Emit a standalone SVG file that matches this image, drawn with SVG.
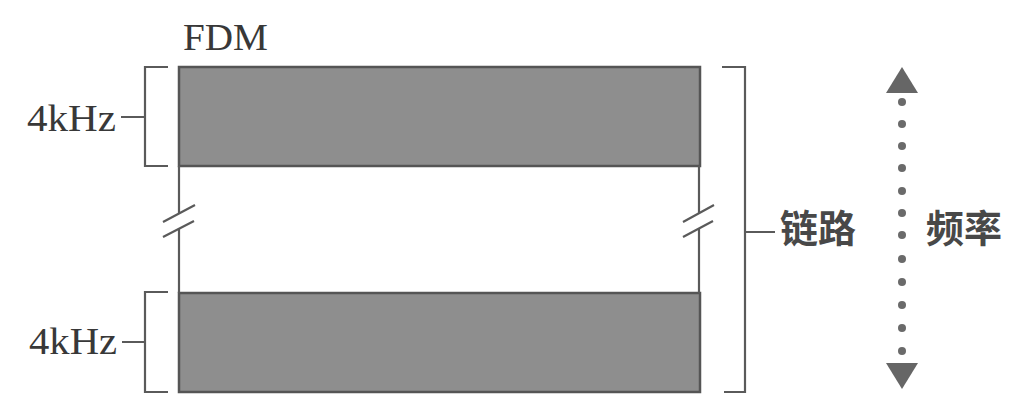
<svg xmlns="http://www.w3.org/2000/svg" width="1036" height="420" viewBox="0 0 1036 420">
  <style>
    .t { font-family: "Liberation Serif", "Noto Sans CJK SC", serif; fill: #383838; }
    .cjk { font-family: "Noto Sans CJK SC", "Liberation Serif", serif; fill: #484848; font-weight: 600; }
    .ln { stroke: #5a5a5a; stroke-width: 2.2; fill: none; }
    .band { fill: #8e8e8e; stroke: #555; stroke-width: 2.5; }
    .dot { fill: #6a6a6a; }
    .head { fill: #666666; }
  </style>
  <rect width="1036" height="420" fill="#ffffff"/>

  <g id="fdm-label">
    <text class="t" x="183" y="50" font-size="38" textLength="85" lengthAdjust="spacingAndGlyphs">FDM</text>
  </g>

  <g id="band-top">
    <rect class="band" x="179" y="67" width="521" height="99"/>
  </g>
  <g id="band-bottom">
    <rect class="band" x="179" y="293" width="521" height="99"/>
  </g>

  <g id="bracket-top">
    <path class="ln" d="M168,67 H145 V166 H168 M145,117 H121"/>
    <text class="t" x="27" y="131" font-size="38" textLength="89" lengthAdjust="spacingAndGlyphs">4kHz</text>
  </g>
  <g id="bracket-bottom">
    <path class="ln" d="M168,292 H145 V392 H168 M145,342 H122"/>
    <text class="t" x="29" y="354" font-size="38" textLength="88" lengthAdjust="spacingAndGlyphs">4kHz</text>
  </g>

  <g id="bracket-link">
    <path class="ln" d="M722,67 H745 V392 H724 M745,232 H775"/>
    <text class="cjk" x="780" y="242" font-size="38">链路</text>
  </g>

  <g id="freq-axis">
    <polygon class="head" points="902,67 918,93 886,93"/>
    <polygon class="head" points="902,389 918,363 886,363"/>
    <g class="dot">
      <circle cx="902" cy="102" r="4"/>
      <circle cx="902" cy="124" r="4"/>
      <circle cx="902" cy="146" r="4"/>
      <circle cx="902" cy="168" r="4"/>
      <circle cx="902" cy="191" r="4"/>
      <circle cx="902" cy="213" r="4"/>
      <circle cx="902" cy="235" r="4"/>
      <circle cx="902" cy="259" r="4"/>
      <circle cx="902" cy="282" r="4"/>
      <circle cx="902" cy="305" r="4"/>
      <circle cx="902" cy="328" r="4"/>
      <circle cx="902" cy="351" r="4"/>
    </g>
    <text class="cjk" x="926" y="242" font-size="38">频率</text>
  </g>

  <g id="connectors">
    <path class="ln" d="M179,166 V213 M179,229 V293"/>
    <path class="ln" d="M163,222 L195,205 M163,237 L194,221"/>
    <path class="ln" d="M699,166 V213 M699,229 V293"/>
    <path class="ln" d="M683,222 L714,205 M683,237 L713,221"/>
  </g>
</svg>
